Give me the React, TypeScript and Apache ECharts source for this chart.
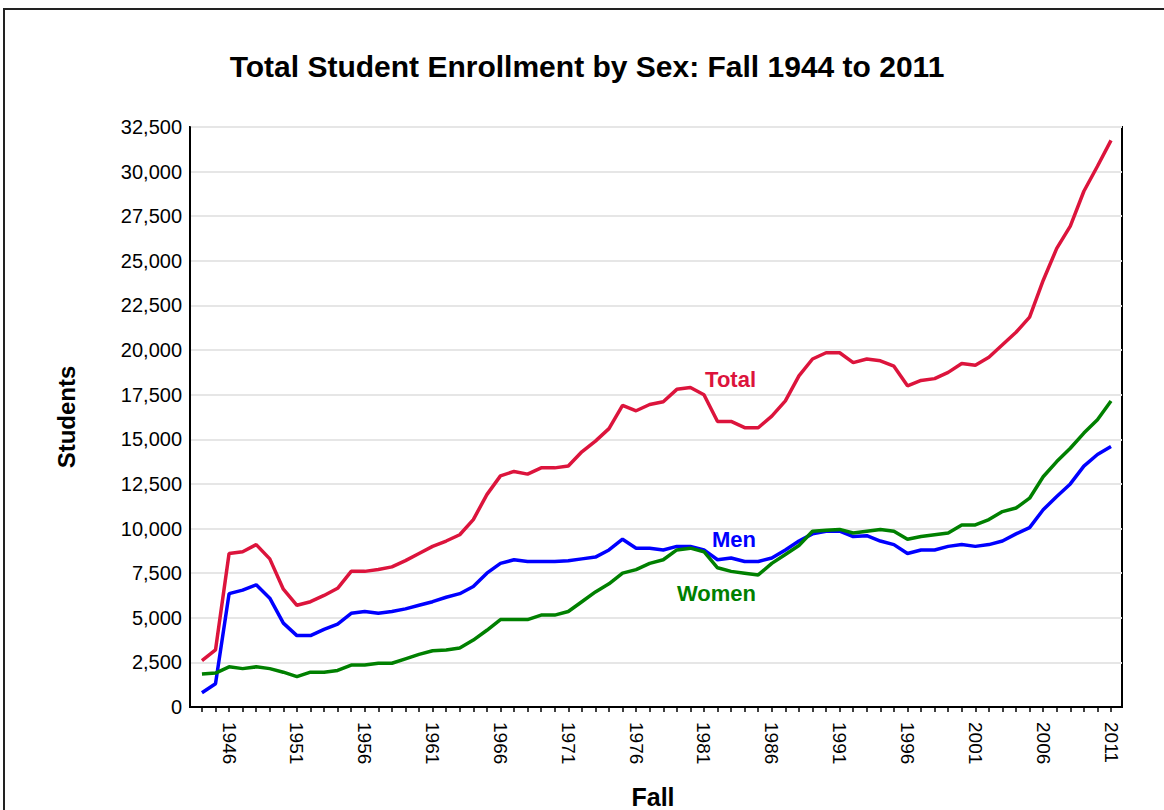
import React, { useEffect, useRef } from "react";
import * as echarts from "echarts";

const YEARS = [
  1944, 1945, 1946, 1947, 1948, 1949, 1950, 1951, 1952, 1953, 1954, 1955, 1956, 1957, 1958, 1959, 1960,
  1961, 1962, 1963, 1964, 1965, 1966, 1967, 1968, 1969, 1970, 1971, 1972, 1973, 1974, 1975, 1976, 1977,
  1978, 1979, 1980, 1981, 1982, 1983, 1984, 1985, 1986, 1987, 1988, 1989, 1990, 1991, 1992, 1993, 1994,
  1995, 1996, 1997, 1998, 1999, 2000, 2001, 2002, 2003, 2004, 2005, 2006, 2007, 2008, 2009, 2010, 2011,
];

const LABEL_YEARS = [1946, 1951, 1956, 1961, 1966, 1971, 1976, 1981, 1986, 1991, 1996, 2001, 2006, 2011];

const TOTAL = [
  2600, 3200, 8600, 8700, 9100, 8300, 6600, 5700, 5900, 6250, 6650, 7600, 7600, 7700, 7850, 8200, 8600,
  9000, 9300, 9650, 10500, 11900, 12950, 13200, 13050, 13400, 13400, 13500, 14300, 14900, 15600, 16900,
  16600, 16950, 17100, 17800, 17900, 17500, 16000, 16000, 15650, 15650, 16300, 17150, 18550, 19500, 19850,
  19850, 19300, 19500, 19400, 19100, 18000, 18300, 18400, 18750, 19250, 19150, 19600, 20300, 21000, 21850,
  23900, 25700, 26950, 28900, 30300, 31750,
];

const MEN = [
  800, 1300, 6350, 6550, 6850, 6100, 4700, 4000, 4000, 4350, 4650, 5250, 5350, 5250, 5350, 5500, 5700,
  5900, 6150, 6350, 6750, 7500, 8050, 8250, 8150, 8150, 8150, 8200, 8300, 8400, 8800, 9400, 8900, 8900,
  8800, 9000, 9000, 8800, 8250, 8350, 8150, 8150, 8350, 8800, 9300, 9700, 9850, 9850, 9550, 9600, 9300,
  9100, 8600, 8800, 8800, 9000, 9100, 9000, 9100, 9300, 9700, 10050, 11050, 11800, 12500, 13500, 14150,
  14600,
];

const WOMEN = [
  1850, 1900, 2250, 2150, 2250, 2150, 1950, 1700, 1950, 1950, 2050, 2350, 2350, 2450, 2450, 2700, 2950,
  3150, 3200, 3300, 3750, 4300, 4900, 4900, 4900, 5150, 5150, 5350, 5900, 6450, 6900, 7500, 7700, 8050,
  8250, 8800, 8900, 8700, 7800, 7600, 7500, 7400, 8050, 8550, 9050, 9850, 9900, 9950, 9750, 9850, 9950,
  9850, 9400, 9550, 9650, 9750, 10200, 10200, 10500, 10950, 11150, 11700, 12900, 13750, 14500, 15350,
  16100, 17150,
];

const FONT = '"Liberation Sans", Arial, sans-serif';

export default function App() {
  const ref = useRef<HTMLDivElement>(null);

  useEffect(() => {
    if (!ref.current) return;
    const chart = echarts.init(ref.current, null, { renderer: "svg" });
    const pair = (vals: number[]) => YEARS.map((y, i) => [y, vals[i]]);
    const lineStyleFor = (color: string) => ({ color, width: 3.5 });

    chart.setOption({
      animation: false,
      backgroundColor: "#fff",
      textStyle: { fontFamily: FONT },
      grid: {
        left: 190,
        top: 127,
        right: 42,
        bottom: 103,
        show: true,
        borderColor: "#000",
        borderWidth: 2,
        containLabel: false,
      },
      xAxis: {
        type: "value",
        min: 1943.12,
        max: 2011.81,
        axisLine: { show: true, onZero: false, lineStyle: { color: "#000", width: 2 } },
        axisTick: {
          show: true,
          customValues: YEARS,
          length: 5,
          inside: false,
          lineStyle: { color: "#000", width: 1.5 },
        },
        axisLabel: {
          customValues: LABEL_YEARS,
          rotate: -90,
          margin: 15,
          fontSize: 19,
          color: "#000",
          fontFamily: FONT,
          formatter: (v: number) => String(v),
        },
        splitLine: { show: false },
      },
      yAxis: {
        type: "value",
        min: 0,
        max: 32500,
        interval: 2500,
        axisLine: { show: true, lineStyle: { color: "#000", width: 2 } },
        axisTick: { show: false },
        axisLabel: {
          margin: 8,
          fontSize: 20,
          color: "#000",
          fontFamily: FONT,
          formatter: (v: number) => v.toLocaleString("en-US"),
        },
        splitLine: { show: true, lineStyle: { color: "#e6e6e6", width: 2 } },
      },
      series: [
        {
          name: "Total",
          type: "line",
          data: pair(TOTAL),
          showSymbol: false,
          lineStyle: lineStyleFor("#DC143C"),
          itemStyle: { color: "#DC143C" },
        },
        {
          name: "Men",
          type: "line",
          data: pair(MEN),
          showSymbol: false,
          lineStyle: lineStyleFor("#0000FF"),
          itemStyle: { color: "#0000FF" },
        },
        {
          name: "Women",
          type: "line",
          data: pair(WOMEN),
          showSymbol: false,
          lineStyle: lineStyleFor("#008000"),
          itemStyle: { color: "#008000" },
        },
      ],
      graphic: [
        {
          type: "rect",
          shape: { x: 4, y: 9, width: 1300, height: 1000 },
          style: { fill: "none", stroke: "#222", lineWidth: 2 },
          silent: true,
        },
        {
          type: "text",
          x: 587,
          y: 66,
          style: {
            text: "Total Student Enrollment by Sex: Fall 1944 to 2011",
            font: `bold 30px ${FONT}`,
            fill: "#000",
            align: "center",
            verticalAlign: "middle",
          },
        },
        {
          type: "text",
          x: 66,
          y: 417,
          rotation: Math.PI / 2,
          style: {
            text: "Students",
            font: `bold 24px ${FONT}`,
            fill: "#000",
            align: "center",
            verticalAlign: "middle",
          },
        },
        {
          type: "text",
          x: 653,
          y: 797,
          style: {
            text: "Fall",
            font: `bold 25px ${FONT}`,
            fill: "#000",
            align: "center",
            verticalAlign: "middle",
          },
        },
        {
          type: "text",
          x: 756,
          y: 379,
          style: {
            text: "Total",
            font: `bold 22px ${FONT}`,
            fill: "#DC143C",
            align: "right",
            verticalAlign: "middle",
          },
        },
        {
          type: "text",
          x: 756,
          y: 539,
          style: {
            text: "Men",
            font: `bold 22px ${FONT}`,
            fill: "#0000FF",
            align: "right",
            verticalAlign: "middle",
          },
        },
        {
          type: "text",
          x: 756,
          y: 593,
          style: {
            text: "Women",
            font: `bold 22px ${FONT}`,
            fill: "#008000",
            align: "right",
            verticalAlign: "middle",
          },
        },
      ],
    });

    return () => chart.dispose();
  }, []);

  return (
    <div
      ref={ref}
      style={{ position: "fixed", left: 0, top: 0, width: 1164, height: 810, background: "#fff" }}
    />
  );
}
